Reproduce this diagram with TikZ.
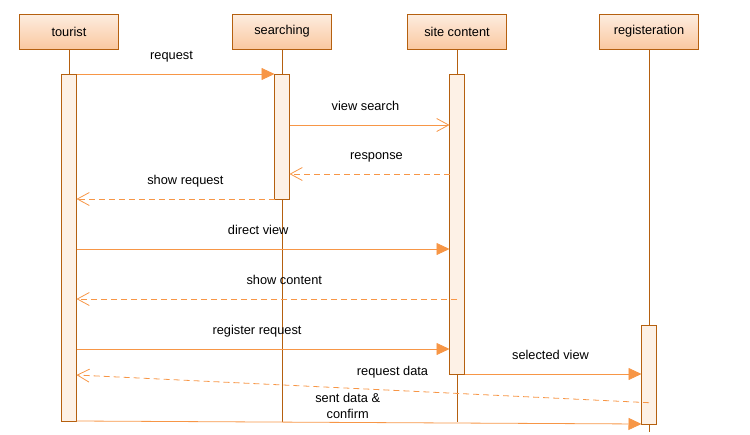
\documentclass[tikz,border=0pt]{standalone}
\usepackage{fontspec}
\setmainfont{Liberation Sans}
\usetikzlibrary{arrows.meta, positioning}
\definecolor{seqBrown}{HTML}{B5600F}
\definecolor{seqOrange}{HTML}{F79646}
\definecolor{seqTop}{HTML}{FDEDE0}
\definecolor{seqBottom}{HTML}{FAC8A0}
\definecolor{seqBar}{HTML}{FDF1E6}

\begin{document}
\begin{tikzpicture}[
  x=1pt, y=-1pt,
  head/.style={
    rectangle, draw=seqBrown, top color=seqTop, bottom color=seqBottom,
    minimum width=99pt, minimum height=35pt, outer sep=0pt,
    font=\fontsize{12.8}{14}\selectfont, line width=0.8pt,
  },
  actbar/.style={rectangle, draw=seqBrown, fill=seqBar, minimum width=15pt,
    inner sep=0pt, outer sep=0pt, line width=0.8pt},
  lifeline/.style={draw=seqBrown, line width=0.8pt},
  call/.style={-{Triangle[length=13pt, width=12pt]}, seqOrange, line width=0.8pt},
  async/.style={-{Straight Barb[length=12pt, width=13pt]}, seqOrange, line width=0.8pt},
  reply/.style={async, dash pattern=on 6pt off 4pt},
  msg/.style={font=\fontsize{12.8}{16}\selectfont, text=black, text depth=3pt,
    above=8pt, align=center},
]
\useasboundingbox (0,0) rectangle (750,434);

% Lifeline heads
\node[head] (tourist) at (69,31.5) {tourist};
\node[head, right=114pt of tourist] (search) {searching};
\node[head, right=76pt of search] (content) {site content};
\node[head, right=93pt of content] (regist) {registeration};

% Lifelines
\coordinate (lifeend) at (0,422);
\coordinate (regend) at (0,432);
\draw[lifeline] (tourist) -- (tourist |- lifeend);
\draw[lifeline] (search) -- (search |- lifeend);
\draw[lifeline] (content) -- (content |- lifeend);
\draw[lifeline] (regist) -- (regist |- regend);

% Activation bars
\node[actbar, minimum height=347pt, below=25pt of tourist] (tbar) {};
\node[actbar, minimum height=125pt, below=25pt of search] (sbar) {};
\node[actbar, minimum height=300pt, below=25pt of content] (cbar) {};
\node[actbar, minimum height=99pt, below=276pt of regist] (rbar) {};

% Message rows
\coordinate (r2) at (0,125);
\coordinate (r3) at (0,174);
\coordinate (r5) at (0,249);
\coordinate (r6) at (0,299);
\coordinate (r7) at (0,349);
\coordinate (r9) at (0,402.7);
\coordinate (r9b) at (0,375);

% Messages
\draw[call] (tbar.north east) -- node[msg, pos=0.48] {request} (sbar.north west);
\draw[async] (sbar.east |- r2) -- node[msg, pos=0.475] {view search} (cbar.west |- r2);
\draw[reply] (cbar.west |- r3) -- node[msg, pos=0.456] {response} (sbar.east |- r3);
\draw[reply] (sbar.south west) -- node[msg, pos=0.45] {show request} (tbar.east |- sbar.south);
\draw[call] (tbar.east |- r5) -- node[msg, pos=0.487] {direct view} (cbar.west |- r5);
\draw[reply] (cbar.center |- r6) -- node[msg, pos=0.454] {show content} (tbar.east |- r6);
\draw[call] (tbar.east |- r7) -- node[msg, pos=0.484] {register request} (cbar.west |- r7);
\draw[call] (cbar.south east) -- node[msg, pos=0.486] {selected view} (rbar.west |- cbar.south);
\draw[reply] (rbar.center |- r9) -- node[msg, pos=0.448] {request data} (tbar.east |- r9b);
\draw[call] (tbar.south east) -- node[msg, pos=0.48, above=-3pt] {sent data \&\\confirm} (rbar.south west);

\end{tikzpicture}
\end{document}
